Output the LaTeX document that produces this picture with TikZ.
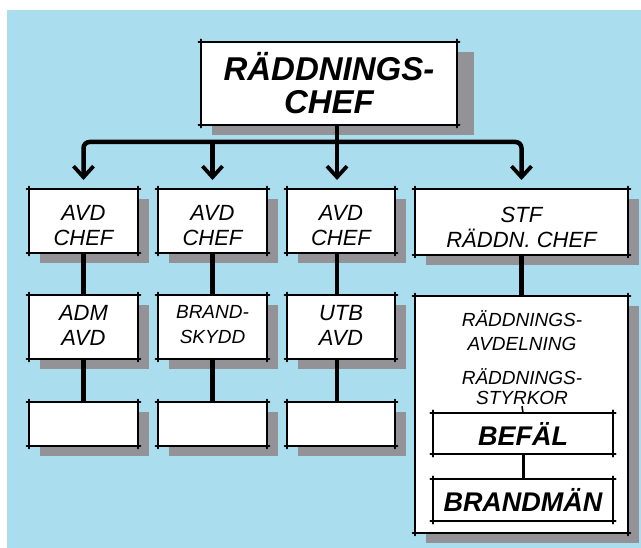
\documentclass[tikz,border=0pt]{standalone}
\usepackage{fontspec}
\setmainfont{Liberation Sans}
\usetikzlibrary{arrows.meta,shadows,calc}
\definecolor{bgblue}{HTML}{AADDEE}
\definecolor{shadowgray}{HTML}{939397}
\newcommand\skbox[2][1.6pt]{%
  \foreach \a/\b in {north west/north east,north east/south east,south east/south west,south west/north west}
    \draw[line width=#1,shorten <=-2.5pt,shorten >=-2.5pt,line cap=round] (#2.\a) -- (#2.\b);}
\begin{document}
\begin{tikzpicture}[x=1pt,y=-1pt,
  box/.style={fill=white,inner sep=0pt,outer sep=0pt,
    drop shadow={shadow xshift=11pt,shadow yshift=-10pt,fill=shadowgray,opacity=1}},
  lbl/.style={inner sep=0pt,align=center,font=\itshape\fontsize{22}{25}\selectfont},
  inbox/.style={fill=white,inner sep=0pt,outer sep=0pt,align=center,
    font=\bfseries\itshape\fontsize{27}{27}\selectfont},
  txt/.style={inner sep=1pt,align=center},
  conn/.style={line width=4.5pt},
  barb/.tip={Straight Barb[length=11pt,width=20pt,line width=3.8pt]},
  arr/.style={-barb},
  arrs/.style={barb-barb}]
\useasboundingbox (0,0) rectangle (641,548);
\fill[white] (0,0) rectangle (641,548);
\fill[bgblue] (7,10) rectangle (641,548);
% top
\node[box,minimum width=256pt,minimum height=83pt,align=center,
  drop shadow={shadow xshift=17pt,shadow yshift=-10pt,fill=shadowgray,opacity=1},
  font=\bfseries\itshape\fontsize{33}{33}\selectfont] (top) at (329,83.5) {RÄDDNINGS-\\CHEF};
% row 1
\node[box,minimum width=109pt,minimum height=64pt] (c1) at (83.5,221) {};
\node[box,minimum width=109pt,minimum height=64pt] (c2) at (212.5,221) {};
\node[box,minimum width=108pt,minimum height=64pt] (c3) at (341,221) {};
\node[box,minimum width=213pt,minimum height=66pt] (c4) at (521.5,222) {};
% row 2
\node[box,minimum width=109pt,minimum height=64pt] (r1) at (83.5,327) {};
\node[box,minimum width=109pt,minimum height=64pt] (r2) at (212.5,327) {};
\node[box,minimum width=108pt,minimum height=64pt] (r3) at (341,327) {};
\node[box,minimum width=213pt,minimum height=237pt] (big) at (521.5,414.5) {};
% row 3
\node[box,minimum width=109pt,minimum height=44pt] (e1) at (83.5,424) {};
\node[box,minimum width=109pt,minimum height=44pt] (e2) at (212.5,424) {};
\node[box,minimum width=108pt,minimum height=44pt] (e3) at (341,424) {};
% labels
\node[lbl] (c1t) at ([yshift=-5pt]c1.center) {AVD\\CHEF};
\node[lbl] (c2t) at ([yshift=-5pt]c2.center) {AVD\\CHEF};
\node[lbl] (c3t) at ([yshift=-5pt]c3.center) {AVD\\CHEF};
\node[lbl] (c4t) at ([yshift=-5pt]c4.center) {STF\\RÄDDN. CHEF};
\node[lbl] (r1t) at ([yshift=2pt]r1.center) {ADM\\AVD};
\node[lbl,font=\itshape\fontsize{19}{25}\selectfont] (r2t) at ([yshift=2pt]r2.center) {BRAND-\\SKYDD};
\node[lbl] (r3t) at ([yshift=2pt]r3.center) {UTB\\AVD};
% inside big box
\node[txt,font=\itshape\fontsize{19}{24}\selectfont] (avd) at (522,331) {RÄDDNINGS-\\AVDELNING};
\node[txt,font=\itshape\fontsize{19}{20}\selectfont] (styr) at (522,387) {RÄDDNINGS-\\STYRKOR};
\node[inbox,minimum width=180pt,minimum height=41pt] (befal) at (523,433.5) {BEFÄL};
\node[inbox,minimum width=180pt,minimum height=42pt] (brand) at (523,500) {BRANDMÄN};
% connectors
\coordinate (bar) at (337,142);
\draw[conn,arr] (bar |- top.south) -- ([yshift=9pt]bar |- c3.north);
\draw[conn,arrs,rounded corners=6pt] ([yshift=9pt]c1.north) |- (bar) -| ([yshift=9pt]c4.north);
\draw[conn,arr] (c2.north |- bar) -- ([yshift=9pt]c2.north);
\draw[conn] (c1.south) -- (r1.north);
\draw[conn] (c2.south) -- (r2.north);
\draw[conn] (c3.south -| bar) -- (r3.north -| bar);
\draw[conn] (c4.south) -- (big.north);
\draw[conn] (r1.south) -- (e1.north);
\draw[conn] (r2.south) -- (e2.north);
\draw[conn] (r3.south -| bar) -- (e3.north -| bar);
\draw[line width=1.6pt] (styr.south) -- (befal.north);
\draw[line width=3pt] (befal.south) -- (brand.north);
% sketchy outlines
\skbox[2pt]{top}
\foreach \n in {c1,c2,c3,c4,r1,r2,r3,big,e1,e2,e3}{\skbox{\n}}
\skbox[2.4pt]{befal}
\skbox[2.4pt]{brand}
\end{tikzpicture}
\end{document}
